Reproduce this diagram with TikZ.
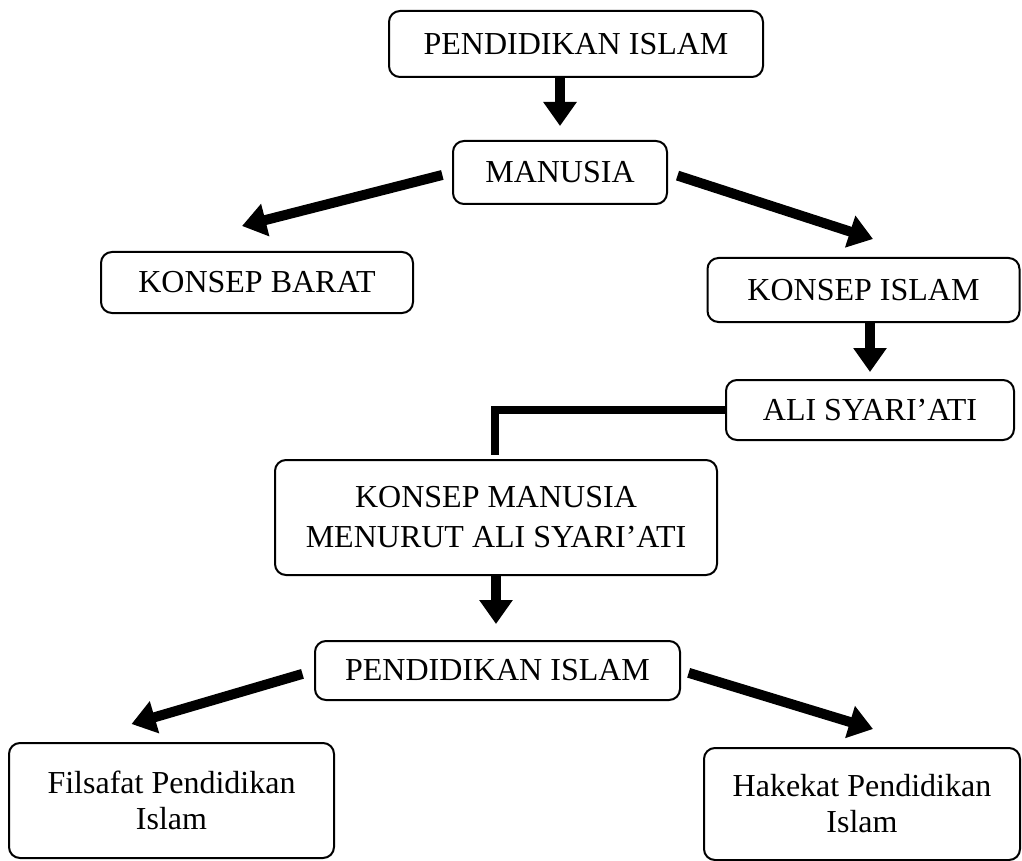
\documentclass[tikz,border=0pt]{standalone}
\usepackage{fontspec}
\setmainfont{Liberation Serif}
\usetikzlibrary{arrows.meta,calc}
\tikzset{
  box/.style={draw=black, line width=1pt, rounded corners=5.5pt, inner sep=0pt, align=center, font=\fontsize{16}{20}\selectfont},
  twoline/.style={font=\fontsize{16}{18}\selectfont},
  arr/.style={line width=5pt, -{Triangle[width=16pt,length=12pt]}},
  conn/.style={line width=4pt}
}
\begin{document}
\begin{tikzpicture}[x=0.5pt,y=-0.5pt]
\useasboundingbox (0,0) rectangle (1022,861);
\node[box, minimum width=187pt, minimum height=33pt] (b1) at (576,44) {PENDIDIKAN ISLAM};
\node[box, minimum width=107pt, minimum height=31.5pt] (man) at (560,172.5) {MANUSIA};
\node[box, minimum width=156pt, minimum height=30.5pt] (barat) at (257,282.5) {KONSEP BARAT};
\node[box, minimum width=156pt, minimum height=32pt] (islam) at (863.5,290) {KONSEP ISLAM};
\node[box, minimum width=144pt, minimum height=30pt] (ali) at (870,410) {ALI SYARI'ATI};
\node[box, minimum width=221pt, minimum height=57.5pt] (kmas) at (496,517.5) {KONSEP MANUSIA\\MENURUT ALI SYARI'ATI};
\node[box, minimum width=182.5pt, minimum height=29.5pt] (pi2) at (497.5,670.5) {PENDIDIKAN ISLAM};
\node[box, twoline, minimum width=162.5pt, minimum height=57.5pt] (fil) at (171.5,800.5) {Filsafat Pendidikan\\Islam};
\node[box, twoline, minimum width=158pt, minimum height=56pt] (hak) at (862,804) {Hakekat Pendidikan\\Islam};

\draw[arr, shorten >=7pt] (b1.south -| man.north) -- (man.north);
\draw[arr, shorten <=5pt] (man.west) -- ($(barat.north)+(-15,-25)$);
\draw[arr, shorten <=5pt] (man.east) -- ($(islam.north)+(9.5,-18)$);
\draw[arr, shorten >=3.5pt] (islam.south -| ali.north) -- (ali.north);
\draw[conn] (ali.west) -| ($(kmas.north)+(-1,-4)$);
\draw[arr, shorten >=8pt] (kmas.south) -- (kmas.south |- pi2.north);
\draw[arr, shorten <=6pt] (pi2.west) -- ($(fil.north)+(-40,-18)$);
\draw[arr, shorten <=4pt] (pi2.east) -- ($(hak.north)+(11,-18)$);
\end{tikzpicture}
\end{document}
